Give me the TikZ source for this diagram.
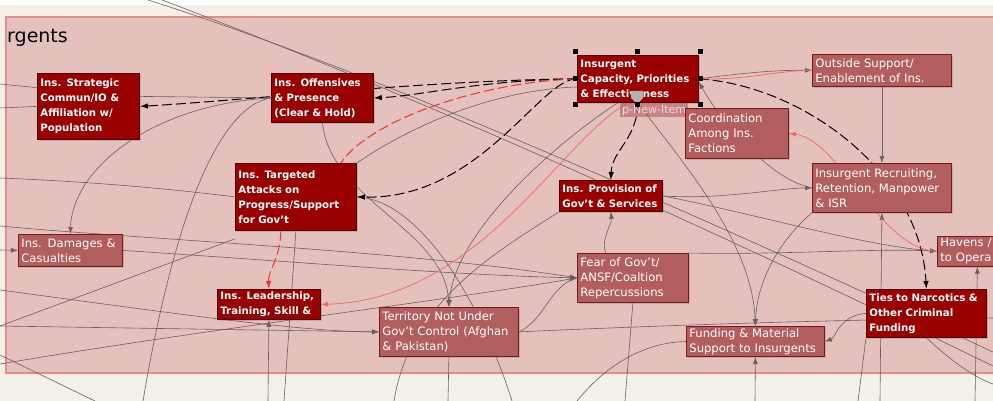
\documentclass[tikz,border=0pt]{standalone}
\usepackage{fontspec}
\setmainfont{DejaVu Sans}
\usetikzlibrary{arrows.meta,shadows}
\definecolor{pinkbg}{RGB}{229,193,190}
\definecolor{pinkedge}{RGB}{226,140,140}
\definecolor{paper}{RGB}{242,240,231}
\definecolor{darkred}{RGB}{153,0,0}
\definecolor{darkedge}{RGB}{85,0,0}
\definecolor{softred}{RGB}{178,94,94}
\definecolor{softedge}{RGB}{120,25,25}
\definecolor{wiregray}{RGB}{105,95,95}
\definecolor{hotred}{RGB}{240,50,50}
\pgfdeclarelayer{back}
\pgfdeclarelayer{wires}
\pgfsetlayers{back,wires,main}

\begin{document}
\begin{tikzpicture}[x=1pt, y=-1pt]
    \tikzstyle{strong}=[draw=darkedge, fill=darkred, text=white, line width=0.8pt,
      anchor=north west, align=left, inner xsep=3pt, inner ysep=2pt,
      font=\fontsize{10.2}{15}\selectfont\bfseries,
      drop shadow={shadow xshift=1.2pt, shadow yshift=-1.5pt, opacity=0.35}]
    \tikzstyle{soft}=[strong, draw=softedge, fill=softred, font=\fontsize{11.6}{15}\selectfont]
    \tikzstyle{plain}=[wiregray, line width=0.6pt]
    \tikzstyle{link}=[->, >={Latex[length=7pt,width=5pt]}, plain]
    \tikzstyle{hilite}=[->, >={Latex[length=8pt,width=5.5pt]}, black, line width=1pt, dash pattern=on 10pt off 4pt]
    \tikzstyle{redpath}=[hilite, hotred]
    \tikzstyle{redlink}=[link, draw=hotred!75, line width=0.7pt]

    \useasboundingbox (0,0) rectangle (993,401);
    % region
    \begin{pgfonlayer}{back}
      \fill[paper] (0,0) rectangle (993,401);
      \fill[white] (0,0) rectangle (993,5);
      \filldraw[fill=pinkbg, draw=pinkedge, line width=1.2pt] (6,17) rectangle (1000,373);
    \end{pgfonlayer}

    \node[anchor=base west, inner sep=0pt, font=\fontsize{19}{19}\selectfont] (title) at (7,43) {rgents};

    % factors
    \node[strong, text width=96pt, minimum height=66pt] (strat) at (37,73)
      {Ins. Strategic\\Commun/IO \&\\Affiliation w/\\Population};
    \node[strong, text width=96pt, minimum height=49pt] (offen) at (271,73)
      {Ins. Offensives\\\& Presence\\(Clear \& Hold)};
    \node[strong, text width=115pt, minimum height=47pt] (capac) at (577,55)
      {Insurgent\\Capacity, Priorities\\\& Effectiveness};
    \node[anchor=north west, fill=softred, fill opacity=0.6, text opacity=1, text=pinkbg!60!white,
      inner xsep=2pt, inner ysep=1pt, minimum height=14pt, font=\fontsize{11}{13}\selectfont] (pnew) at (620,103) {p-New-Item};
    \node[soft, text width=133pt, minimum height=32pt] (outsup) at (812,54)
      {Outside Support/\\Enablement of Ins.};
    \node[soft, text width=97pt, minimum height=50pt] (coord) at (685,108)
      {Coordination\\Among Ins.\\Factions};
    \node[soft, text width=133pt, minimum height=49pt] (recruit) at (812,163)
      {Insurgent Recruiting,\\Retention, Manpower\\\& ISR};
    \node[soft, text width=74pt, minimum height=29pt] (havens) at (937,236)
      {Havens  /\\to Opera};
    \node[strong, text width=115pt, minimum height=67pt] (target) at (235,163)
      {Ins. Targeted\\Attacks on\\Progress/Support\\for Gov't};
    \node[strong, text width=97pt, minimum height=31pt] (provis) at (559,180)
      {Ins. Provision of\\Gov't \& Services};
    \node[soft, text width=98pt, minimum height=32pt] (damage) at (18,234)
      {Ins. Damages \&\\Casualties};
    \node[strong, text width=97pt, minimum height=30pt] (leader) at (217,289)
      {Ins. Leadership,\\Training, Skill \&};
    \node[soft, text width=105pt, minimum height=49pt] (fear) at (577,253)
      {Fear of Gov't/\\ANSF/Coaltion\\Repercussions};
    \node[soft, text width=133pt, minimum height=49pt] (territ) at (379,307)
      {Territory Not Under\\Gov't Control (Afghan\\\& Pakistan)};
    \node[soft, text width=132pt, minimum height=30pt] (fund) at (686,326)
      {Funding \& Material\\Support to Insurgents};
    \node[strong, text width=114pt, minimum height=48pt] (ties) at (866,289)
      {Ties to Narcotics \&\\Other Criminal\\Funding};

    % selection marks
    \fill[gray!60] (631,91) -- (643,91) -- (643,98) -- (637,104) -- (631,98) -- cycle;
    \foreach \hx/\hy in {575/52, 637/52, 700/52, 575/79, 700/79, 575/105, 637/105, 700/105}
      \fill (\hx-2.5,\hy-2.5) rectangle (\hx+2.5,\hy+2.5);

    % free ends
    \coordinate (topA) at (148,0);
    \coordinate (topB) at (162,0);
    \coordinate (rimA) at (993,352);
    \coordinate (rimB) at (993,366);
    \coordinate (rimC) at (993,384);
    \coordinate (rimD) at (993,318);
    \coordinate (edgeA) at (0,84);
    \coordinate (edgeB) at (0,108);
    \coordinate (edgeC) at (0,178);
    \coordinate (edgeD) at (0,226);
    \coordinate (edgeE) at (0,250);
    \coordinate (edgeF) at (0,290);
    \coordinate (edgeG) at (0,326);
    \coordinate (edgeH) at (0,355);
    \coordinate (edgeI) at (0,364);
    \coordinate (footA) at (95,401);
    \coordinate (footB) at (143,401);
    \coordinate (footC) at (268,401);
    \coordinate (footD) at (284,401);
    \coordinate (footE) at (394,401);
    \coordinate (footF) at (448,401);
    \coordinate (footM) at (512,401);
    \coordinate (footG) at (577,401);
    \coordinate (footH) at (625,401);
    \coordinate (footI) at (755,401);
    \coordinate (footJ) at (858,401);
    \coordinate (footK) at (880,401);
    \coordinate (footL) at (975,401);

    \begin{pgfonlayer}{wires}
      % grey links
      \draw[plain] (topA) .. controls (300,48) and (560,150) .. (rimA);
      \draw[plain] (topB) .. controls (310,56) and (570,160) .. (rimB);
      \draw[plain] (edgeA) -- (strat.160);
      \draw[plain] (edgeB) -- (strat.west);
      \draw[plain] ([yshift=10pt]strat.east) -- (offen.west);
      \draw[link] (offen.west) .. controls (150,105) and (72,170) .. (damage.north);
      \draw[plain] (offen.west) .. controls (200,110) and (160,300) .. (footB);
      \draw[link] (edgeE) -- (damage.west);
      \draw[plain] (edgeC) .. controls (100,182) and (180,190) .. (target.west);
      \draw[link] (edgeD) .. controls (150,240) and (400,250) .. (fear.west);
      \draw[link] (damage.east) .. controls (300,262) and (450,275) .. (fear.west);
      \draw[link] (edgeF) .. controls (150,310) and (300,332) .. (territ.west);
      \draw[link] (edgeG) -- (territ.west);
      \draw[link] (edgeI) .. controls (200,330) and (450,300) .. (fear.west);
      \draw[plain] ([yshift=-8pt]target.south west) -- (edgeG);
      \draw[plain] (edgeH) -- (footA);
      \draw[plain] (target.south) -- (footD);
      \draw[link] (footC) -- (leader.south);
      \draw[plain] (target.north east) .. controls (420,120) and (500,90) .. ([yshift=-8pt]capac.west);
      \draw[link] (offen.south) .. controls (330,200) and (445,230) .. (territ.north);
      \draw[link] ([xshift=-20pt]capac.south) .. controls (560,140) and (455,230) .. (territ.north);
      \draw[plain] (territ.south) -- (footF);
      \draw[plain] (provis.south west) .. controls (500,250) and (410,300) .. (footE);
      \draw[plain] (target.east) .. controls (420,200) and (480,300) .. (footM);
      \draw[link] ([xshift=-27pt]fear.north) .. controls (600,240) and (612,225) .. (provis.south);
      \draw[link] (provis.east) .. controls (720,200) and (780,188) .. (recruit.west);
      \draw[link] (recruit.west) .. controls (770,180) and (720,120) .. ([yshift=-3pt]capac.east);
      \draw[link] (capac.east) .. controls (750,72) and (780,70) .. (outsup.west);
      \draw[link] (outsup.south) -- (recruit.north);
      \draw[link] (footK) -- (recruit.south);
      \draw[link] (fear.north east) .. controls (780,255) and (880,248) .. (havens.west);
      \draw[link] (provis.east) .. controls (760,215) and (860,245) .. (havens.west);
      \draw[link] (capac.south) .. controls (680,160) and (752,240) .. (fund.north);
      \draw[link] (recruit.south west) .. controls (780,240) and (757,280) .. (fund.north);
      \draw[link] (footI) -- (fund.south);
      \draw[link] (ties.west) .. controls (840,315) and (835,338) .. (fund.east);
      \draw[plain] (footG) .. controls (610,360) and (650,342) .. (fund.west);
      \draw[plain] (fear.south) -- (footH);
      \draw[plain] (territ.east) .. controls (600,328) and (800,320) .. (rimD);
      \draw[plain] (territ.east) .. controls (545,320) and (550,285) .. (fear.west);
      \draw[plain] (ties.south west) -- (footJ);
      \draw[plain] (ties.south) .. controls (950,360) and (975,378) .. (rimC);
      \draw[link] (footL) -- (havens.south);

      % highlighted paths
      \draw[hilite] (capac.west) .. controls (430,80) and (250,100) .. (strat.east);
      \draw[hilite] (capac.west) .. controls (480,80) and (420,96) .. (offen.east);
      \draw[hilite] (capac.west) .. controls (540,78) and (480,200) .. (target.east);
      \draw[redpath, -] (capac.west) .. controls (480,82) and (370,120) .. ([xshift=-16pt]target.north east);
      \draw[redpath] ([xshift=-15pt]target.south) .. controls (280,260) and (268,270) .. (leader.north);
      \draw[hilite] (capac.east) .. controls (800,85) and (920,170) .. (ties.north);
      \draw[hilite] (capac.south) .. controls (637,140) and (612,150) .. (provis.north);
      \draw[redlink, -] (capac.east) .. controls (750,80) and (780,70) .. (outsup.west);
      \draw[redlink] (havens.west) .. controls (880,250) and (840,140) .. (coord.east);
      \draw[redlink] ([xshift=-10pt]capac.south) .. controls (560,140) and (480,300) .. (leader.east);
    \end{pgfonlayer}
  \end{tikzpicture}
\end{document}
